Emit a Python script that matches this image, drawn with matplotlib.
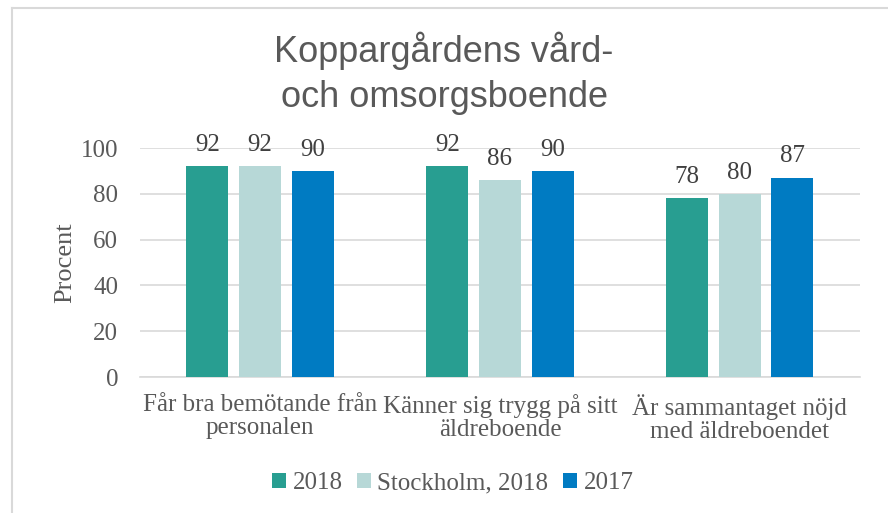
import matplotlib.pyplot as plt
import numpy as np

categories = ['Får bra bemötande från\npersonalen',
              'Känner sig trygg på sitt\näldreboende',
              'Är sammantaget nöjd\nmed äldreboendet']
series_names = ['2018', 'Stockholm, 2018', '2017']
values_2018 = [92, 92, 78]
values_sthlm = [92, 86, 80]
values_2017 = [90, 90, 87]
colors = ['#289E91', '#B7D8D7', '#007BC2']

serif = ['Liberation Serif', 'DejaVu Serif']
sans = ['Liberation Sans', 'DejaVu Sans']

fig = plt.figure(figsize=(8.88, 5.13), dpi=100)
ax = fig.add_axes([0.158, 0.265, 0.81, 0.4465])

x = np.arange(len(categories))
width = 0.175
step = 0.22
for i, (vals, name) in enumerate(zip([values_2018, values_sthlm, values_2017], series_names)):
    pos = x + (i - 1) * step
    bars = ax.bar(pos, vals, width, color=colors[i], label=name, zorder=3)
    for xp, v in zip(pos, vals):
        ax.text(xp, v + 4.5, str(v), ha='center', va='bottom', fontsize=18,
                family=serif, color='#404040', clip_on=False)

ax.set_ylim(0, 100)
ax.set_xlim(-0.5, 2.5)
ax.set_yticks(np.arange(0, 101, 20))
ax.set_xticks(x)
ax.set_xticklabels(categories, family=serif, fontsize=18, color='#595959', linespacing=1.1)
for lab in ax.get_yticklabels():
    lab.set_family(serif)
    lab.set_fontsize(18)
    lab.set_color('#595959')
ax.tick_params(axis='y', length=0, pad=16)
ax.tick_params(axis='x', length=0, pad=12)
ax.grid(axis='y', color='#D9D9D9', linewidth=1.2, zorder=0)
for s in ['top', 'right', 'left']:
    ax.spines[s].set_visible(False)
ax.spines['bottom'].set_color('#D9D9D9')
ax.spines['bottom'].set_linewidth(1.2)
ax.set_ylabel('Procent', family=serif, fontsize=19, color='#595959', labelpad=3)

fig.text(0.5, 0.857, 'Koppargårdens vård-\noch omsorgsboende', ha='center', va='center',
         fontsize=26, family=sans, color='#595959', linespacing=1.35)

leg = fig.legend(loc='center', bbox_to_anchor=(0.51, 0.058), ncol=3, frameon=False,
                 prop={'family': serif, 'size': 18}, handlelength=0.55, handleheight=0.55,
                 handletextpad=0.25, columnspacing=0.6)
for t in leg.get_texts():
    t.set_color('#595959')

# chart border (top and left edges only visible)
fig.add_artist(plt.Line2D([0.0135, 1.0], [0.9844, 0.9844], color='#D9D9D9', linewidth=1.5,
                          transform=fig.transFigure))
fig.add_artist(plt.Line2D([0.0135, 0.0135], [0.0, 0.9844], color='#D9D9D9', linewidth=1.5,
                          transform=fig.transFigure))

fig.savefig('out.png', dpi=100)
